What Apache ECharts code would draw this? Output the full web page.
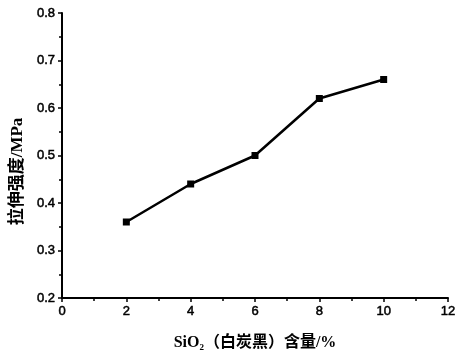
<!DOCTYPE html>
<html><head><meta charset="utf-8">
<script src="https://cdn.jsdelivr.net/npm/echarts@6/dist/echarts.min.js"></script>
<style>html,body{margin:0;padding:0;background:#fff}#c{width:464px;height:357px}</style>
</head><body><div id="c"></div>
<script>
const xValues = [2, 4, 6, 8, 10];
const strength = [0.36, 0.44, 0.50, 0.62, 0.66];
const xTicks = [0, 2, 4, 6, 8, 10, 12];
const yTicks = [0.2, 0.3, 0.4, 0.5, 0.6, 0.7, 0.8];
const xName = 'SiO{sub|2}（白炭黑）含量/%';
const yName = '拉伸强度/MPa';

const chart = echarts.init(document.getElementById('c'));
const axisFont = {fontFamily: 'Liberation Sans, Arial, sans-serif', fontSize: 13, color: '#000', textBorderColor: '#000', textBorderWidth: 0.5};
const nameFont = {fontFamily: 'Liberation Serif, Noto Sans CJK SC, serif', fontSize: 16, fontWeight: 'bold', color: '#000'};
chart.setOption({
  animation: false,
  backgroundColor: '#fff',
  grid: {left: 62, right: 16, top: 13, bottom: 59},
  xAxis: {
    type: 'value', min: xTicks[0], max: xTicks[xTicks.length-1], interval: 2,
    name: xName, nameLocation: 'middle', nameGap: 35,
    nameTextStyle: Object.assign({}, nameFont, {rich: {sub: {fontFamily: 'Liberation Serif', fontSize: 9, fontWeight: 'bold', verticalAlign: 'bottom', padding: [10,0,0,0]}}}),
    axisLine: {lineStyle: {color: '#000', width: 2}},
    axisTick: {inside: false, length: 4, lineStyle: {color: '#000', width: 1.5}},
    minorTick: {show: true, splitNumber: 2, length: 3, lineStyle: {color: '#000', width: 1.5}},
    axisLabel: Object.assign({margin: 7}, axisFont),
    splitLine: {show: false}
  },
  yAxis: {
    type: 'value', min: yTicks[0], max: yTicks[yTicks.length-1], interval: 0.1,
    name: yName, nameLocation: 'middle', nameGap: 35,
    nameTextStyle: Object.assign({}, nameFont, {fontSize: 17, padding: [0, 32, 0, 0]}),
    axisLine: {show: true, lineStyle: {color: '#000', width: 2}},
    axisTick: {show: true, inside: false, length: 4, lineStyle: {color: '#000', width: 1.5}},
    minorTick: {show: true, splitNumber: 2, length: 3, lineStyle: {color: '#000', width: 1.5}},
    axisLabel: Object.assign({margin: 7, formatter: v => v.toFixed(1)}, axisFont),
    splitLine: {show: false}
  },
  series: [{
    type: 'line',
    data: xValues.map((x, i) => [x, strength[i]]),
    symbol: 'rect', symbolSize: 7,
    lineStyle: {color: '#000', width: 2.5},
    itemStyle: {color: '#000'}
  }]
});
</script></body></html>
